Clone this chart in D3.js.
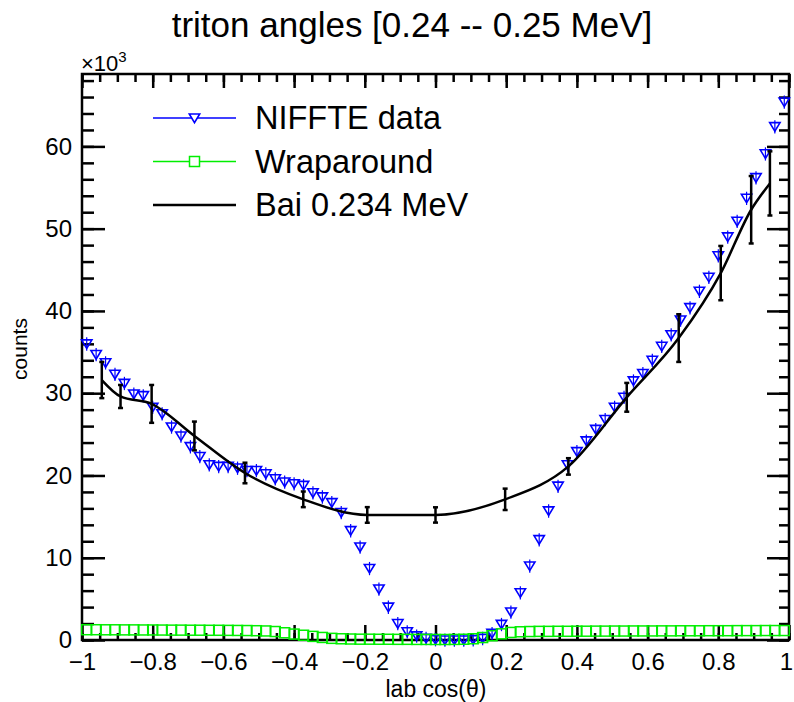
<!DOCTYPE html>
<html><head><meta charset="utf-8">
<script src="https://cdn.jsdelivr.net/npm/d3@7"></script>
<style>body{margin:0;background:#fff}text{font-family:"Liberation Sans",Arial,Helvetica,sans-serif}</style>
</head><body>
<svg id="c" width="794" height="702"></svg>
<script>
// ---------- data (counts in units of 10^3) ----------
const titleText = "triton angles [0.24 -- 0.25 MeV]";
const xTitle = "lab cos(\u03b8)";
const yTitle = "counts";
const binLow = -1, binHigh = 1, nBins = 75;
const niffte = [36.0,34.7,33.7,32.3,31.2,29.9,29.7,28.3,27.5,25.9,
  24.8,23.5,22.3,21.3,21.1,21.1,20.9,20.6,20.6,20.2,
  19.6,19.2,19.0,18.8,17.9,17.4,16.7,15.5,13.3,11.3,
  8.7,6.2,4.0,2.0,1.0,0.5,0.2,0.05,0.0,0.0,
  0.0,0.05,0.2,0.8,1.9,3.4,5.75,9.0,12.2,15.7,
  18.7,21.3,22.9,24.2,25.6,26.8,28.3,29.5,31.5,32.4,
  34.0,35.7,37.1,38.9,40.4,42.4,44.1,46.7,49.0,50.9,
  53.7,56.2,59.1,62.4,65.4];
const wrap = [1.25,1.25,1.24,1.24,1.23,1.23,1.22,1.22,1.21,1.20,
  1.20,1.19,1.19,1.18,1.18,1.17,1.16,1.15,1.13,1.10,
  1.03,0.88,0.72,0.58,0.44,0.31,0.20,0.15,0.12,0.10,
  0.10,0.09,0.09,0.08,0.08,0.07,0.07,0.06,0.06,0.07,
  0.09,0.15,0.30,0.52,0.75,0.92,1.00,1.03,1.05,1.05,
  1.06,1.06,1.07,1.07,1.08,1.08,1.09,1.09,1.10,1.10,
  1.10,1.11,1.11,1.12,1.12,1.12,1.13,1.13,1.13,1.14,
  1.14,1.14,1.15,1.15,1.15];
const baiX = [-0.944,-0.891,-0.803,-0.682,-0.539,-0.374,-0.193,0.0,0.197,0.376,0.541,0.688,0.807,0.893,0.946];
const baiY = [31.6,29.6,28.7,24.8,20.3,17.1,15.2,15.2,17.1,21.1,29.5,36.7,44.6,52.3,55.5];
const baiErr = [2.2,1.4,2.3,1.75,1.25,0.95,0.95,0.93,1.3,1.0,1.75,2.9,3.3,4.1,3.9];
const xMajor = [-1,-0.8,-0.6,-0.4,-0.2,0,0.2,0.4,0.6,0.8,1];
const yMajor = [0,10,20,30,40,50,60];
const legendLabels = ["NIFFTE data","Wraparound","Bai 0.234 MeV"];

// ---------- layout ----------
const L = 82, R = 789, T = 74, B = 640;
const svg = d3.select("#c");
const x = d3.scaleLinear().domain([-1,1]).range([L,R]);
const y = d3.scaleLinear().domain([0,68.8]).range([B,T]);
const binW = (binHigh-binLow)/nBins;
const binCenters = niffte.map((_,i)=>binLow+(i+0.5)*binW);
const xMinor = d3.range(-1,1.0001,0.05).map(v=>+v.toFixed(2));
const yMinor = d3.range(0,68.8,2);
const fmtX = v => (v<0?"\u2212":"") + String(Math.abs(+v.toFixed(1)));
const blue = "#0000ff", green = "#00ee00";

// axes
function drawAxis(makeAxis, tx, ty, major, minor, majLen, minLen, labels, pad, fsize){
  const gMin = svg.append("g").attr("transform",`translate(${tx},${ty})`)
    .call(makeAxis().tickValues(minor).tickSize(-minLen).tickFormat(""));
  const gMaj = svg.append("g").attr("transform",`translate(${tx},${ty})`)
    .call(makeAxis().tickValues(major).tickSize(-majLen).tickPadding(pad).tickFormat(labels||(()=>"")));
  [gMin,gMaj].forEach(g=>{g.select(".domain").remove();
    g.selectAll("line").attr("stroke","#000").attr("stroke-width",2.5);
    g.selectAll("text").attr("font-size",fsize).attr("fill","#000")
      .style("font-family",'"Liberation Sans",Arial,sans-serif');});
  return gMaj;
}
const gBottom = drawAxis(()=>d3.axisBottom(x), 0, B, xMajor, xMinor, 15, 7, fmtX, 13, 24);
gBottom.selectAll("text").filter(d=>d===1).attr("dx",-3);
drawAxis(()=>d3.axisTop(x), 0, T, xMajor, xMinor, 14, 8, null, 3, 24);
drawAxis(()=>d3.axisLeft(y), L, 0, yMajor, yMinor, 23, 12, d=>String(d), 10, 24);
drawAxis(()=>d3.axisRight(y), R, 0, yMajor, yMinor, 22, 10, null, 3, 24);

// frame
svg.append("rect").attr("x",L).attr("y",T).attr("width",R-L).attr("height",B-T)
  .attr("fill","none").attr("stroke","#000").attr("stroke-width",2.5);

// NIFFTE triangles (open, pointing down) with short error stubs
const triPath = (cx,cy)=>`M${cx-5.2},${cy-4}L${cx+5.2},${cy-4}L${cx},${cy+4.6}Z`;
const gN = svg.append("g");
gN.selectAll("line").data(niffte).join("line")
  .attr("x1",(d,i)=>x(binCenters[i])).attr("x2",(d,i)=>x(binCenters[i]))
  .attr("y1",d=>y(d)-6.5).attr("y2",d=>y(d)+6.8)
  .attr("stroke",blue).attr("stroke-width",1.2);
gN.selectAll("path").data(niffte).join("path")
  .attr("d",(d,i)=>triPath(x(binCenters[i]),y(d)))
  .attr("fill","none").attr("stroke",blue).attr("stroke-width",1.6);

// Wraparound squares
const sq = 10;
svg.append("g").selectAll("rect").data(wrap).join("rect")
  .attr("x",(d,i)=>x(binCenters[i])-sq/2).attr("y",d=>y(d)-sq/2)
  .attr("width",sq).attr("height",sq)
  .attr("fill","none").attr("stroke",green).attr("stroke-width",1.5);

// Bai curve with error bars
const baiPts = baiX.map((v,i)=>[x(v),y(baiY[i])]);
svg.append("path").attr("d",d3.line().curve(d3.curveMonotoneX)(baiPts))
  .attr("fill","none").attr("stroke","#000").attr("stroke-width",2.5);
const gE = svg.append("g").attr("stroke","#000").attr("stroke-width",2.5);
baiX.forEach((v,i)=>{
  const cx=x(v), y1=y(baiY[i]+baiErr[i]), y2=y(baiY[i]-baiErr[i]);
  gE.append("line").attr("x1",cx).attr("x2",cx).attr("y1",y1).attr("y2",y2);
  gE.append("line").attr("x1",cx-2.5).attr("x2",cx+2.5).attr("y1",y1).attr("y2",y1);
  gE.append("line").attr("x1",cx-2.5).attr("x2",cx+2.5).attr("y1",y2).attr("y2",y2);
});

// legend
const legY = [118,161.5,205], lx1 = 153, lx2 = 236, lmx = 194.5, ltx = 255;
svg.append("line").attr("x1",lx1).attr("x2",lx2).attr("y1",legY[0]).attr("y2",legY[0]).attr("stroke",blue).attr("stroke-width",1.5);
svg.append("path").attr("d",triPath(lmx,legY[0])).attr("fill","#fff").attr("stroke",blue).attr("stroke-width",1.6);
svg.append("line").attr("x1",lx1).attr("x2",lx2).attr("y1",legY[1]).attr("y2",legY[1]).attr("stroke",green).attr("stroke-width",1.5);
svg.append("rect").attr("x",lmx-sq/2).attr("y",legY[1]-sq/2).attr("width",sq).attr("height",sq).attr("fill","#fff").attr("stroke",green).attr("stroke-width",1.5);
svg.append("line").attr("x1",lx1).attr("x2",lx2).attr("y1",legY[2]).attr("y2",legY[2]).attr("stroke","#000").attr("stroke-width",2.5);
legendLabels.forEach((t,i)=>svg.append("text").attr("x",ltx).attr("y",legY[i]+11)
  .attr("font-size",32.5).text(t));

// titles
svg.append("text").attr("x",412).attr("y",37).attr("text-anchor","middle").attr("font-size",35).text(titleText);
svg.append("text").attr("x",436).attr("y",697).attr("text-anchor","middle").attr("font-size",23).text(xTitle);
svg.append("text").attr("transform","translate(27,349) rotate(-90)").attr("text-anchor","middle").attr("font-size",21).text(yTitle);
const ex = svg.append("text").attr("x",81).attr("y",71).attr("font-size",22).text("\u00d710");
ex.append("tspan").attr("dy",-9).attr("font-size",15).text("3");
</script>
</body></html>
